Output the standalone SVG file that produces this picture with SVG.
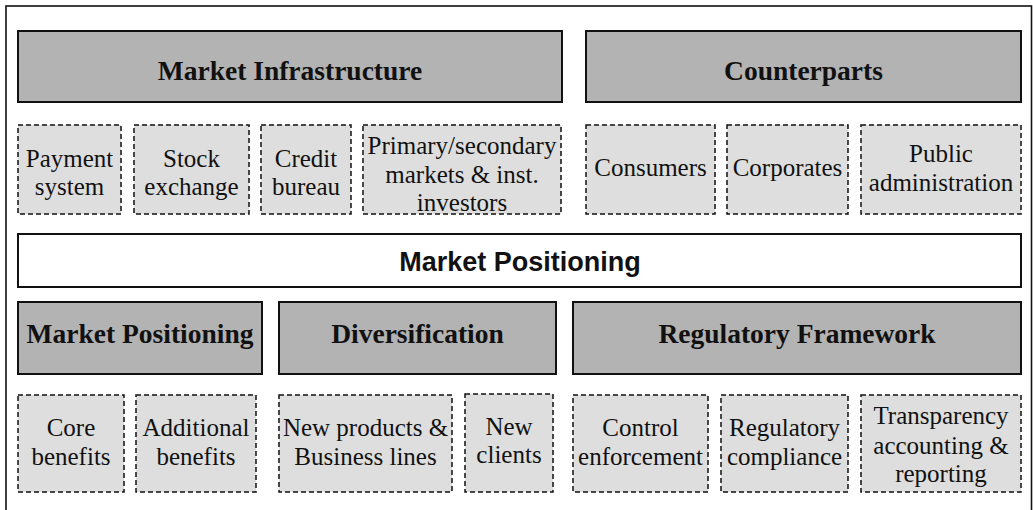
<svg xmlns="http://www.w3.org/2000/svg" width="1033" height="510" viewBox="0 0 1033 510">
  <style>
    .frame { fill: #ffffff; stroke: #111111; stroke-width: 1.6; }
    .head { fill: #b3b3b3; stroke: #111111; stroke-width: 2; }
    .bar { fill: #ffffff; stroke: #111111; stroke-width: 2; }
    .item { fill: #dedede; stroke: #111111; stroke-width: 1.5; stroke-dasharray: 5 3; }
    .ht { font-family: "Liberation Serif", "Times New Roman", serif; font-weight: bold; font-size: 27.5px; fill: #111111; text-anchor: middle; }
    .bt { font-family: "Liberation Sans", Arial, sans-serif; font-weight: bold; font-size: 27px; fill: #111111; text-anchor: middle; }
    .it { font-family: "Liberation Serif", "Times New Roman", serif; font-size: 25px; fill: #111111; text-anchor: middle; }
  </style>

  <rect class="frame" x="6" y="6" width="1025.5" height="520"/>

  <!-- top row headers -->
  <g id="market-infrastructure">
    <rect class="head" x="18" y="31" width="544" height="71"/>
    <text class="ht" x="290" y="80">Market Infrastructure</text>
  </g>
  <g id="counterparts">
    <rect class="head" x="586" y="31" width="435" height="71"/>
    <text class="ht" x="803.5" y="80">Counterparts</text>
  </g>

  <!-- top row items -->
  <g id="payment-system">
    <rect class="item" x="18" y="125" width="103" height="89"/>
    <text class="it" x="69.5" y="167">Payment</text>
    <text class="it" x="69.5" y="195">system</text>
  </g>
  <g id="stock-exchange">
    <rect class="item" x="134" y="125" width="115" height="89"/>
    <text class="it" x="191.5" y="167">Stock</text>
    <text class="it" x="191.5" y="195">exchange</text>
  </g>
  <g id="credit-bureau">
    <rect class="item" x="261" y="125" width="90" height="89"/>
    <text class="it" x="306" y="167">Credit</text>
    <text class="it" x="306" y="195">bureau</text>
  </g>
  <g id="primary-secondary">
    <rect class="item" x="363" y="125" width="198" height="89"/>
    <text class="it" x="462" y="154">Primary/secondary</text>
    <text class="it" x="462" y="183">markets &amp; inst.</text>
    <text class="it" x="462" y="211">investors</text>
  </g>
  <g id="consumers">
    <rect class="item" x="586" y="125" width="129" height="89"/>
    <text class="it" x="650.5" y="176">Consumers</text>
  </g>
  <g id="corporates">
    <rect class="item" x="727" y="125" width="121" height="89"/>
    <text class="it" x="787.5" y="176">Corporates</text>
  </g>
  <g id="public-administration">
    <rect class="item" x="861" y="125" width="160" height="89"/>
    <text class="it" x="941" y="162">Public</text>
    <text class="it" x="941" y="191">administration</text>
  </g>

  <!-- central bar -->
  <g id="market-positioning-bar">
    <rect class="bar" x="18" y="234" width="1003" height="53"/>
    <text class="bt" x="520" y="271">Market Positioning</text>
  </g>

  <!-- bottom row headers -->
  <g id="market-positioning">
    <rect class="head" x="18" y="302" width="244" height="72"/>
    <text class="ht" x="140" y="343">Market Positioning</text>
  </g>
  <g id="diversification">
    <rect class="head" x="279" y="302" width="277" height="72"/>
    <text class="ht" x="417.5" y="343">Diversification</text>
  </g>
  <g id="regulatory-framework">
    <rect class="head" x="573" y="302" width="448" height="72"/>
    <text class="ht" x="797" y="343">Regulatory Framework</text>
  </g>

  <!-- bottom row items -->
  <g id="core-benefits">
    <rect class="item" x="18" y="395" width="106" height="97"/>
    <text class="it" x="71" y="436">Core</text>
    <text class="it" x="71" y="465">benefits</text>
  </g>
  <g id="additional-benefits">
    <rect class="item" x="136" y="395" width="120" height="97"/>
    <text class="it" x="196" y="436">Additional</text>
    <text class="it" x="196" y="465">benefits</text>
  </g>
  <g id="new-products">
    <rect class="item" x="279" y="395" width="173" height="97"/>
    <text class="it" x="365.5" y="436">New products &amp;</text>
    <text class="it" x="365.5" y="465">Business lines</text>
  </g>
  <g id="new-clients">
    <rect class="item" x="465" y="394" width="88" height="98"/>
    <text class="it" x="509" y="435">New</text>
    <text class="it" x="509" y="463">clients</text>
  </g>
  <g id="control-enforcement">
    <rect class="item" x="573" y="395" width="135" height="97"/>
    <text class="it" x="640.5" y="436">Control</text>
    <text class="it" x="640.5" y="465">enforcement</text>
  </g>
  <g id="regulatory-compliance">
    <rect class="item" x="721" y="395" width="127" height="97"/>
    <text class="it" x="784.5" y="436">Regulatory</text>
    <text class="it" x="784.5" y="465">compliance</text>
  </g>
  <g id="transparency">
    <rect class="item" x="861" y="395" width="160" height="97"/>
    <text class="it" x="941" y="424">Transparency</text>
    <text class="it" x="941" y="453.5">accounting &amp;</text>
    <text class="it" x="941" y="482">reporting</text>
  </g>

  <g id="connectors"></g>
</svg>
